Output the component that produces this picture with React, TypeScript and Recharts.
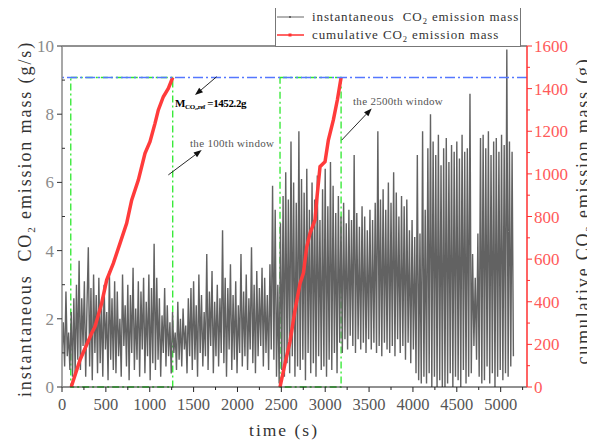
import React from 'react';
import { ComposedChart, Line, XAxis, YAxis, ReferenceLine, ReferenceArea, ReferenceDot } from 'recharts';

const TIME_STEP_S = 15;

// instantaneous CO2 emission mass (g/s), one value every 15 s from t = 0
const instantaneousMass = [
  1.0, 1.9, 0.6, 2.8, 0.9, 1.6, 0.5, 2.2, 0.3, 2.6,
  0.4, 3.0, 0.8, 3.7, 0.5, 2.6, 1.2, 3.1, 0.3, 2.4,
  4.1, 0.6, 2.9, 0.2, 3.3, 1.0, 2.7, 0.4, 3.2, 0.7,
  2.5, 0.3, 3.0, 1.1, 2.2, 0.2, 3.4, 0.8, 2.6, 0.5,
  3.1, 0.4, 2.8, 0.9, 2.0, 0.3, 3.3, 1.2, 2.4, 0.6,
  3.0, 0.2, 2.7, 1.0, 3.5, 0.5, 2.3, 0.8, 3.1, 0.3,
  2.8, 1.1, 3.2, 0.4, 2.5, 0.9, 3.3, 0.2, 2.9, 0.7,
  4.2, 0.5, 3.2, 0.8, 2.6, 0.3, 2.1, 1.0, 2.9, 0.6,
  2.4, 0.9, 1.9, 0.4, 2.2, 1.0, 1.6, 0.5, 2.5, 0.8,
  2.0, 0.6, 2.3, 1.1, 1.8, 0.4, 2.6, 0.9, 2.9, 0.5,
  3.1, 0.8, 2.4, 0.3, 3.3, 1.0, 2.7, 0.6, 2.2, 0.9,
  3.9, 0.5, 2.8, 1.2, 3.4, 0.4, 2.5, 0.9, 3.0, 0.6,
  2.6, 1.0, 4.6, 0.7, 3.2, 0.3, 2.9, 1.1, 3.6, 0.5,
  2.7, 0.8, 3.1, 0.4, 2.4, 1.0, 3.9, 0.6, 2.8, 0.9,
  3.3, 0.5, 2.6, 1.1, 4.1, 0.7, 3.0, 0.4, 3.4, 0.9,
  2.9, 1.2, 3.5, 0.6, 3.2, 1.0, 2.7, 0.5, 3.6, 1.1,
  5.9, 0.8, 5.2, 0.3, 3.0, 0.1, 4.8, 0.5, 5.6, 0.3,
  6.3, 0.7, 5.5, 0.4, 7.2, 0.9, 6.0, 0.3, 5.4, 0.6,
  7.5, 0.5, 6.1, 0.8, 5.7, 0.2, 6.4, 1.0, 5.2, 0.4,
  6.0, 0.7, 5.5, 0.3, 6.2, 0.9, 4.9, 0.5, 5.8, 0.6,
  6.4, 0.3, 5.3, 0.8, 6.6, 0.5, 5.9, 1.0, 5.1, 0.4,
  5.6, 1.3, 5.0, 1.0, 5.4, 1.4, 4.8, 1.1, 5.2, 1.5,
  4.9, 1.2, 6.8, 1.0, 5.1, 1.4, 4.7, 1.1, 5.3, 1.3,
  5.0, 1.0, 4.6, 1.4, 5.2, 1.1, 4.9, 1.3, 5.4, 1.0,
  7.5, 1.2, 5.5, 0.9, 5.8, 1.3, 5.2, 1.1, 6.0, 1.0,
  5.4, 1.2, 6.3, 0.9, 5.7, 1.4, 5.0, 1.0, 5.6, 1.2,
  5.3, 0.8, 5.5, 1.3, 4.6, 0.7, 4.9, 1.1, 4.4, 0.4,
  6.8, 0.2, 4.5, 0.1, 7.5, 0.3, 5.2, 0.1, 7.0, 0.4,
  8.0, 0.0, 7.2, 0.3, 6.8, 0.0, 7.4, 0.2, 6.5, 0.0,
  7.0, 0.0, 7.3, 0.1, 6.6, 0.4, 7.1, 0.0, 6.9, 0.3,
  7.2, 0.2, 6.7, 0.0, 7.4, 0.5, 6.9, 0.1, 7.0, 0.3,
  8.6, 0.4, 3.9, 1.2, 3.2, 0.8, 4.5, 0.3, 7.3, 0.1,
  7.4, 0.2, 7.0, 0.6, 7.5, 0.1, 6.8, 0.4, 7.2, 0.0,
  7.3, 0.3, 6.9, 0.5, 7.4, 0.2, 7.1, 0.4, 9.9, 0.3,
  7.2, 0.6, 6.9, 0.9,
];

// cumulative CO2 emission mass (g) in the 100th window
const cumTimes100 = [105, 205, 338, 376, 452, 509, 585, 661, 737, 794, 870, 946, 1003, 1060, 1098, 1155, 1212, 1262];
const cumMass100 = [0, 127, 252, 283, 393, 502, 580, 674, 768, 877, 971, 1096, 1151, 1237, 1300, 1362, 1401, 1452.2];

// cumulative CO2 emission mass (g) in the 2500th window
const cumTimes2500 = [2485, 2542, 2599, 2656, 2713, 2751, 2790, 2827, 2884, 2903, 2941, 2998, 3036, 3093, 3140, 3181];
const cumMass2500 = [0, 111, 213, 361, 486, 533, 658, 721, 784, 877, 1034, 1057, 1159, 1253, 1350, 1452.2];

const referenceMass = 1452.2;
const windowStarts = [100, 2485];
const windowEnds = [1262, 3181];

const timeTicks = [0, 250, 500, 750, 1000, 1250, 1500, 1750, 2000, 2250, 2500, 2750, 3000, 3250, 3500, 3750, 4000, 4250, 4500, 4750, 5000, 5250];
const leftTicks = [0, 1, 2, 3, 4, 5, 6, 7, 8, 9, 10];
const rightTicks = [0, 100, 200, 300, 400, 500, 600, 700, 800, 900, 1000, 1100, 1200, 1300, 1400, 1500, 1600];

const instData = instantaneousMass.map((v, i) => ({ t: i * TIME_STEP_S, v }));
const cum100Data = cumTimes100.map((t, i) => ({ t, c: cumMass100[i] }));
const cum2500Data = cumTimes2500.map((t, i) => ({ t, c: cumMass2500[i] }));

const SERIF = 'Liberation Serif';
const TS = 5;
const TM = 2;

const BottomTick = (props: any) => {
  const { x, y, payload } = props;
  const ay = y - TS - TM;
  const major = payload.value % 500 === 0;
  return (
    <g>
      <line x1={x} x2={x} y1={ay} y2={ay + (major ? 5 : 3)} stroke="#222" />
      {major && (
        <text x={x} y={ay} dy={23} textAnchor="middle" fontFamily={SERIF} fontSize={16.5} fill="#555">
          {payload.value}
        </text>
      )}
    </g>
  );
};

const LeftTick = (props: any) => {
  const { x, y, payload } = props;
  const ax = x + TS + TM;
  const major = payload.value % 2 === 0;
  return (
    <g>
      <line x1={ax} x2={major ? ax - 5 : ax + 3} y1={y} y2={y} stroke="#333" />
      {major && (
        <text x={ax - 8} y={y} dy={6} textAnchor="end" fontFamily={SERIF} fontSize={17} fill="#8a8a8a">
          {payload.value}
        </text>
      )}
    </g>
  );
};

const RightTick = (props: any) => {
  const { x, y, payload } = props;
  const ax = x - TS - TM;
  const major = payload.value % 200 === 0;
  return (
    <g>
      <line x1={ax} x2={ax + (major ? 5 : 3)} y1={y} y2={y} stroke="#ff3030" />
      {major && (
        <text x={ax + 7} y={y} dy={6} textAnchor="start" fontFamily={SERIF} fontSize={17} fill="#ff5a5a">
          {payload.value}
        </text>
      )}
    </g>
  );
};

const ArrowShape = (props: any) => {
  const { x1, y1, x2, y2 } = props;
  const ang = Math.atan2(y2 - y1, x2 - x1);
  const L = 8;
  const W = 3;
  const bx = x2 - L * Math.cos(ang);
  const by = y2 - L * Math.sin(ang);
  const px = -Math.sin(ang) * W;
  const py = Math.cos(ang) * W;
  return (
    <g>
      <line x1={x1} y1={y1} x2={bx} y2={by} stroke="#111" strokeWidth={0.9} />
      <polygon points={`${x2},${y2} ${bx + px},${by + py} ${bx - px},${by - py}`} fill="#111" />
    </g>
  );
};

const RefLineShape = (props: any) => (
  <line x1={props.x1} y1={props.y1} x2={props.x2} y2={props.y2} stroke="#5577ff" strokeWidth={1.5} strokeDasharray="10 3 2 3" />
);

const MRefLabel = (props: any) => (
  <text x={props.cx} y={props.cy} dy={4} fontFamily={SERIF} fontWeight="bold" fontSize={11} fill="#000" letterSpacing={-0.4}>
    M<tspan fontSize={7} dy={2}>CO₂,ref</tspan>
    <tspan dy={-2}> =1452.2g</tspan>
  </text>
);

const makeWindowLabel = (txt: string) => (props: any) => (
  <text x={props.cx} y={props.cy} dy={4} fontFamily={SERIF} fontSize={11} fill="#555" letterSpacing={0.3}>
    {txt}
  </text>
);

const Label100 = makeWindowLabel('the 100th window');
const Label2500 = makeWindowLabel('the 2500th window');

const LeftAxisLabel = () => (
  <text x={23} y={211} transform="rotate(-90 23 211)" textAnchor="middle" fontFamily={SERIF} fontSize={18} letterSpacing={1.9} fill="#333" style={{ whiteSpace: 'pre' }}>
    {'instantaneous  CO'}
    <tspan dy={4} fontSize={11}>2</tspan>
    <tspan dy={-4}>{' emission mass (g/s)'}</tspan>
  </text>
);

const RightAxisLabel = () => (
  <text x={581} y={203} transform="rotate(-90 581 203)" textAnchor="middle" fontFamily={SERIF} fontSize={18} letterSpacing={1.8} fill="#333" style={{ whiteSpace: 'pre' }}>
    {'cumulative CO'}
    <tspan dy={4} fontSize={11}>2</tspan>
    <tspan dy={-4}>{' emission mass (g)'}</tspan>
  </text>
);

const BottomAxisLabel = () => (
  <text x={276} y={428} textAnchor="middle" fontFamily={SERIF} fontSize={17.5} letterSpacing={2} fill="#333" style={{ whiteSpace: 'pre' }}>
    time (s)
  </text>
);

export default function App() {
  return (
    <div style={{ position: 'relative', width: 587, height: 436 }}>
      <ComposedChart width={587} height={436} margin={{ top: 38, right: 0, bottom: 0, left: 0 }}>
        <XAxis
          xAxisId="bottom"
          type="number"
          dataKey="t"
          domain={[0, 5300]}
          ticks={timeTicks}
          interval={0}
          height={57}
          stroke="#222"
          tickSize={TS}
          tickMargin={TM}
          tickLine={false}
          tick={BottomTick}
          allowDataOverflow
          label={{ content: BottomAxisLabel }}
        />
        <XAxis
          xAxisId="top"
          orientation="top"
          mirror
          type="number"
          domain={[0, 5300]}
          ticks={timeTicks}
          interval={0}
          height={1}
          tick={false}
          tickSize={4}
          stroke="#222"
          allowDataOverflow
        />
        <YAxis
          yAxisId="left"
          domain={[0, 10]}
          ticks={leftTicks}
          interval={0}
          width={54}
          stroke="#8a8a8a"
          strokeWidth={1.5}
          tickSize={TS}
          tickMargin={TM}
          tickLine={false}
          tick={LeftTick}
          allowDataOverflow
          label={{ content: LeftAxisLabel }}
        />
        <YAxis
          yAxisId="right"
          orientation="right"
          domain={[0, 1600]}
          ticks={rightTicks}
          interval={0}
          width={68}
          stroke="#ff3030"
          strokeWidth={1.5}
          tickSize={TS}
          tickMargin={TM}
          tickLine={false}
          tick={RightTick}
          allowDataOverflow
          label={{ content: RightAxisLabel }}
        />
        <Line
          xAxisId="bottom"
          yAxisId="left"
          data={instData}
          dataKey="v"
          type="linear"
          dot={false}
          stroke="#626262"
          strokeWidth={1.4}
          isAnimationActive={false}
        />
        <Line
          xAxisId="bottom"
          yAxisId="right"
          data={cum100Data}
          dataKey="c"
          type="linear"
          dot={false}
          stroke="#ff3b3b"
          strokeWidth={3.5}
          isAnimationActive={false}
        />
        <Line
          xAxisId="bottom"
          yAxisId="right"
          data={cum2500Data}
          dataKey="c"
          type="linear"
          dot={false}
          stroke="#ff3b3b"
          strokeWidth={3.5}
          isAnimationActive={false}
        />
        <ReferenceLine
          xAxisId="bottom"
          yAxisId="right"
          y={referenceMass}
          shape={RefLineShape}
        />
        {windowStarts.map((s, i) => (
          <ReferenceArea
            key={i}
            xAxisId="bottom"
            yAxisId="right"
            x1={s}
            x2={windowEnds[i]}
            y1={0}
            y2={referenceMass}
            fill="none"
            fillOpacity={0}
            stroke="#2ee82e"
            strokeWidth={1.3}
            strokeDasharray="7 3 2 3"
          />
        ))}
        <ReferenceLine xAxisId="bottom" yAxisId="left" segment={[{ x: 1763, y: 9.1 }, { x: 1516, y: 8.56 }]} shape={ArrowShape} />
        <ReferenceLine xAxisId="bottom" yAxisId="left" segment={[{ x: 1212, y: 6.22 }, { x: 1592, y: 6.95 }]} shape={ArrowShape} />
        <ReferenceLine xAxisId="bottom" yAxisId="left" segment={[{ x: 3188, y: 7.24 }, { x: 3530, y: 8.17 }]} shape={ArrowShape} />
        <ReferenceDot xAxisId="bottom" yAxisId="left" x={1288} y={8.33} r={0} shape={MRefLabel} />
        <ReferenceDot xAxisId="bottom" yAxisId="left" x={1459} y={7.16} r={0} shape={Label100} />
        <ReferenceDot xAxisId="bottom" yAxisId="left" x={3317} y={8.39} r={0} shape={Label2500} />
      </ComposedChart>
      <svg style={{ position: 'absolute', left: 267, top: -3, overflow: 'visible' }} width={246} height={42}>
        <rect x={0.5} y={0.5} width={245} height={41} fill="#fff" stroke="#777" />
        <line x1={2} x2={29} y1={12} y2={12} stroke="#666" strokeWidth={1} />
        <rect x={14} y={11} width={2} height={2} fill="#666" />
        <text x={37} y={16} fontFamily={SERIF} fontSize={13} letterSpacing={0.9} fill="#333" style={{ whiteSpace: 'pre' }}>
          {'instantaneous  CO'}
          <tspan dy={3} fontSize={8.5}>2</tspan>
          <tspan dy={-3}>{' emission mass'}</tspan>
        </text>
        <line x1={2} x2={29} y1={30} y2={30} stroke="#ff3030" strokeWidth={1.5} />
        <rect x={13.5} y={28.5} width={3} height={3} fill="#ff3030" />
        <text x={37} y={34} fontFamily={SERIF} fontSize={13} letterSpacing={0.9} fill="#333" style={{ whiteSpace: 'pre' }}>
          {'cumulative CO'}
          <tspan dy={3} fontSize={8.5}>2</tspan>
          <tspan dy={-3}>{' emission mass'}</tspan>
        </text>
      </svg>
    </div>
  );
}
